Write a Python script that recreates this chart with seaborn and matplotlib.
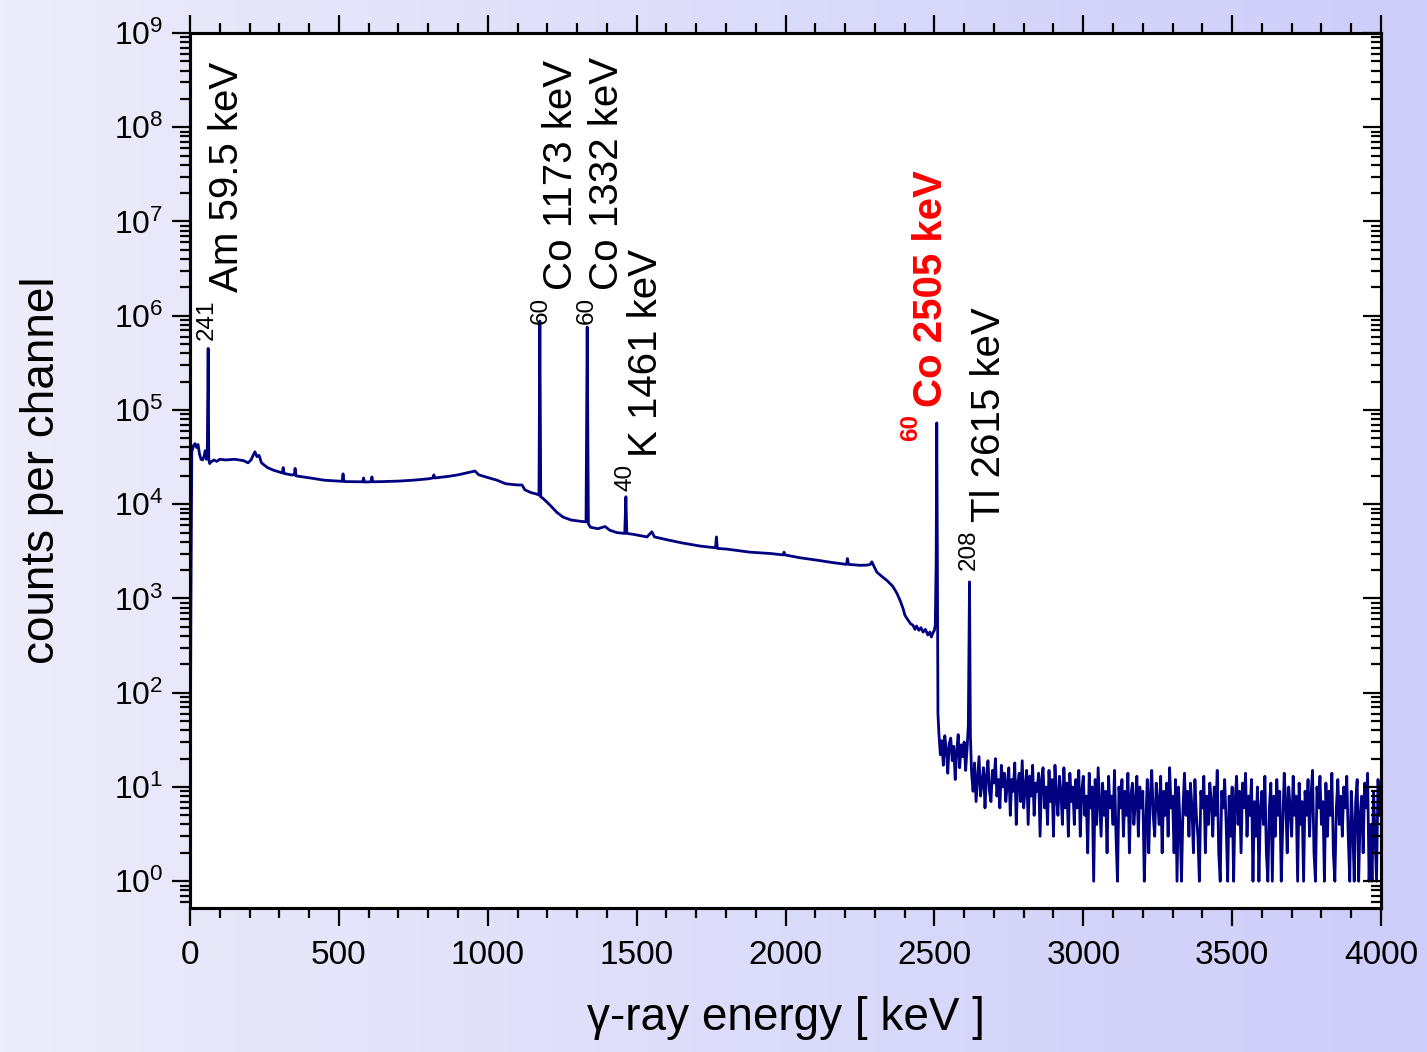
import numpy as np
import matplotlib
matplotlib.use("Agg")
import matplotlib.pyplot as plt
import seaborn as sns
from matplotlib.ticker import MultipleLocator, LogLocator, NullFormatter, FuncFormatter
from matplotlib.colors import LinearSegmentedColormap

# --- spectrum ---
# continuum + peaks up to the 60Co sum peak (keV, counts per channel)
spec_energy = [0, 3, 6, 12, 17, 22, 27, 32, 37, 42, 47, 51, 55, 58, 61, 63, 66,
               70, 80, 90, 100, 120, 150, 180, 195, 205, 212, 218, 225, 232, 240,
               260, 280, 300, 310, 313, 316, 340, 350, 353, 356, 380, 413, 450,
               500, 511, 514, 517, 560, 580, 583, 586, 608, 611, 614, 650, 700,
               750, 800, 816, 819, 822, 870, 900, 930, 957, 970, 1000, 1031,
               1060, 1100, 1115, 1125, 1145, 1165, 1172, 1175, 1178, 1186, 1209,
               1232, 1253, 1280, 1310, 1330, 1334, 1338, 1345, 1370, 1394, 1410,
               1434, 1460, 1464, 1467, 1488, 1520, 1535, 1551, 1560, 1602, 1650,
               1713, 1765, 1768, 1771, 1800, 1881, 1950, 1992, 1995, 1998, 2050,
               2106, 2160, 2205, 2208, 2212, 2250, 2273, 2285, 2290, 2300, 2307,
               2325, 2341, 2360, 2374, 2385, 2395, 2401, 2410, 2420, 2428, 2435,
               2440, 2448, 2455, 2462, 2470, 2478, 2485, 2490, 2495, 2500, 2503,
               2506, 2508, 2510, 2512]
spec_counts = [2, 800, 36000, 42000, 44000, 40000, 43000, 34000, 30000, 29500,
               32000, 37000, 30000, 34000, 450000, 30000, 27000,
               28000, 29500, 28500, 30000, 29500, 30000, 29000, 27500, 29500,
               33000, 36000, 32000, 33000, 27500,
               24500, 23000, 22000, 21500, 24500, 21200, 20500, 20500, 24000,
               20000, 19500, 18800, 18000,
               17600, 17500, 21000, 17400, 17300, 17300, 19000, 17200, 17300,
               19500, 17300, 17400, 17600,
               18000, 18600, 19000, 20500, 19000, 19800, 20500, 21500, 22500,
               20500, 19200, 18000,
               16500, 16000, 16000, 14200, 13300, 12800, 12500, 880000, 12000,
               11500, 9800,
               8200, 7300, 6800, 6600, 6500, 760000, 6200, 5700, 5500, 5800, 5300,
               5000, 4900, 12000, 4900, 4800, 4600, 4500, 5100, 4500, 4200, 3900,
               3600, 3450, 4500, 3400, 3350, 3100, 3000, 2900, 3100, 2900, 2700,
               2550, 2400, 2300, 2650, 2300, 2250, 2260, 2300, 2450, 2100, 1900,
               1700, 1550, 1350, 1140, 950, 780, 665, 600, 540, 520, 470,
               510, 460, 490, 440, 470, 410, 440, 390, 430, 460, 520,
               2500, 73000, 3000, 60]

# between the sum peak and the 208Tl line, 5 keV steps from 2515 keV
gap_counts = [38, 22, 31, 17, 35, 25, 14, 29, 33, 19,
              27, 12, 24, 36, 16, 28, 21, 30, 15, 26]

# 208Tl line
tl_energy = [2614, 2618, 2621]
tl_counts = [45, 1500, 35]

# noisy tail, 5 keV steps from 2625 to 4000 keV
tail_counts = [
    14, 9, 18, 7, 12, 21, 8, 11, 16, 6, 13, 19, 9, 7, 15, 11, 20, 8, 12, 6, 17, 10, 14, 7, 11,
    16, 5, 12, 9, 18, 4, 11, 14, 7, 19, 6, 10, 15, 4, 13, 8, 17, 5, 11, 9, 14, 3, 12, 16, 6,
    10, 4, 15, 7, 12, 3, 17, 8, 5, 13, 9, 4, 16, 6, 11, 3, 14, 7, 10, 4, 12, 6, 15, 3, 9,
    13, 5, 8, 2, 14, 6, 10, 1, 12, 4, 16, 7, 3, 11, 5, 9, 2, 13, 6, 8, 4, 15, 3, 1, 10,
    6, 12, 3, 9, 5, 14, 2, 8, 11, 4, 7, 13, 3, 10, 6, 9, 1, 4, 12, 2, 8, 15, 5, 3, 11,
    7, 4, 13, 2, 9, 5, 11, 3, 16, 6, 8, 2, 12, 1, 10, 4, 1, 6, 14, 5, 9, 3, 11, 6, 2,
    12, 5, 3, 1, 9, 6, 13, 2, 8, 4, 11, 7, 3, 10, 5, 15, 2, 1, 9, 6, 12, 4, 1, 8, 3,
    10, 1, 7, 13, 4, 9, 2, 11, 6, 14, 3, 8, 5, 12, 1, 7, 3, 10, 1, 6, 9, 4, 13, 2, 1,
    6, 11, 1, 8, 3, 12, 5, 9, 1, 4, 14, 7, 2, 10, 6, 3, 13, 5, 8, 1, 11, 4, 7, 1, 9,
    5, 12, 3, 8, 15, 2, 1, 10, 6, 13, 4, 7, 1, 11, 3, 9, 5, 14, 2, 1, 6, 12, 4, 8, 3,
    10, 6, 13, 3, 1, 9, 4, 1, 7, 12, 1, 5, 8, 2, 11, 6, 14, 1, 4, 1, 9, 3, 1, 12, 5,
    7]

# peak labels: isotope, text, label anchor (keV, counts), colour, weight
label_iso = ["241", "60", "60", "40", "60", "208"]
label_text = ["Am 59.5 keV", "Co 1173 keV", "Co 1332 keV", "K 1461 keV",
              "Co 2505 keV", "Tl 2615 keV"]
label_x = [161, 1283, 1437, 1568, 2526, 2720]
label_y = [10**6.25, 10**6.27, 10**6.27, 10**4.50, 10**5.03, 10**3.81]
label_color = ["black", "black", "black", "black", "#ff0000", "black"]
label_weight = ["normal", "normal", "normal", "normal", "bold", "normal"]

energy = np.concatenate([spec_energy, np.arange(2515, 2615, 5), tl_energy,
                         np.arange(2625, 4001, 5)])
counts = np.concatenate([spec_counts, gap_counts, tl_counts, tail_counts]).astype(float)

sns.set_theme(style="ticks")
plt.rcParams["font.family"] = ["Liberation Sans", "DejaVu Sans"]
plt.rcParams["mathtext.fontset"] = "custom"
plt.rcParams["mathtext.rm"] = "Liberation Sans"
plt.rcParams["mathtext.it"] = "Liberation Sans:italic"
plt.rcParams["mathtext.bf"] = "Liberation Sans:bold"

W, H = 1427, 1052
fig = plt.figure(figsize=(W / 100, H / 100), dpi=100)

# soft lavender gradient behind everything (figure-level image, no axes)
cmap = LinearSegmentedColormap.from_list("bg", ["#ececfa", "#cdcdfb"])
row = cmap(np.linspace(0, 1, W))[:, :3]
fig.figimage(np.tile(row[None, :, :], (H, 1, 1)), xo=0, yo=0, zorder=-10)

ax = fig.add_axes([190 / W, 1 - 908 / H, (1381 - 190) / W, (908 - 33) / H])
ax.set_facecolor("white")

sns.lineplot(x=energy, y=counts, ax=ax, color="#000080", lw=2.0,
             estimator=None, sort=False)

ax.set_yscale("log")
ax.set_xlim(0, 4000)
ax.set_ylim(0.52, 1e9)

ax.xaxis.set_major_locator(MultipleLocator(500))
ax.xaxis.set_minor_locator(MultipleLocator(100))
ax.yaxis.set_major_locator(LogLocator(base=10, numticks=20))
ax.yaxis.set_minor_locator(LogLocator(base=10, subs=np.arange(2, 10), numticks=20))
ax.yaxis.set_minor_formatter(NullFormatter())
ax.yaxis.set_major_formatter(FuncFormatter(
    lambda v, p: rf"$10^{{{int(round(np.log10(v)))}}}$"))

for s in ax.spines.values():
    s.set_linewidth(2.2)
    s.set_color("black")

ax.tick_params(axis="x", which="both", bottom=True, top=True, direction="out",
               labelsize=24, pad=10, colors="black")
ax.tick_params(axis="y", which="both", left=True, right=False, direction="out",
               labelsize=23, pad=6, colors="black")
ax.tick_params(which="major", length=13, width=1.6)
ax.tick_params(which="minor", length=7, width=1.6)

# right side: ticks pointing inward
ax2 = ax.twinx()
ax2.set_yscale("log")
ax2.set_ylim(ax.get_ylim())
ax2.yaxis.set_major_locator(LogLocator(base=10, numticks=20))
ax2.yaxis.set_minor_locator(LogLocator(base=10, subs=np.arange(2, 10), numticks=20))
ax2.yaxis.set_major_formatter(NullFormatter())
ax2.yaxis.set_minor_formatter(NullFormatter())
ax2.tick_params(axis="y", which="both", direction="in", labelright=False,
                colors="black")
ax2.tick_params(which="major", length=13, width=1.6)
ax2.tick_params(which="minor", length=7, width=1.6)
for s in ax2.spines.values():
    s.set_linewidth(2.2)
    s.set_color("black")

ax.set_xlabel("γ-ray energy [ keV ]", fontsize=33, labelpad=18, color="black")
ax.set_ylabel("counts per channel", fontsize=33, labelpad=36, color="black")
ax.grid(False)

for iso, txt, x, y, c, w in zip(label_iso, label_text, label_x, label_y,
                                label_color, label_weight):
    ax.annotate(txt, (x, y), rotation=90, rotation_mode="anchor", ha="left",
                va="baseline", fontsize=29, color=c, fontweight=w)
    ax.annotate(iso, (x, y), xytext=(-18, -5), textcoords="offset points",
                rotation=90, rotation_mode="anchor", ha="right", va="baseline",
                fontsize=17.5, color=c, fontweight=w)

fig.savefig("out.png", dpi=100)
